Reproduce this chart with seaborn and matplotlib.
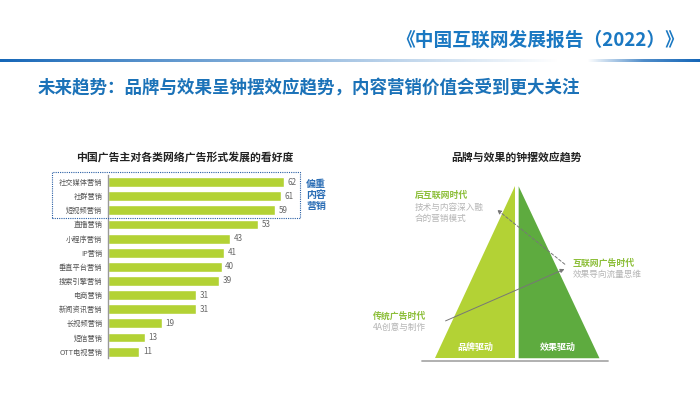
import numpy as np
import pandas as pd
import matplotlib
matplotlib.use("Agg")
import matplotlib.pyplot as plt
import matplotlib.patches as mpatches
import seaborn as sns

sns.set_style("white")
plt.rcParams['font.family'] = ['Noto Sans CJK SC', 'DejaVu Sans']

# dati:看好度
categories = ['社交媒体营销', '社群营销', '短视频营销', '直播营销', '小程序营销', 'IP营销',
              '垂直平台营销', '搜索引擎营销', '电商营销', '新闻资讯营销', '长视频营销', '短信营销', 'OTT电视营销']
scores = [62, 61, 59, 53, 43, 41, 40, 39, 31, 31, 19, 13, 11]

# dati: 钟摆效应 (triangolo)
halves = ['品牌驱动', '效果驱动']
half_colors = ['#b3d235', '#5eab3f']
eras = ['传统广告时代', '互联网广告时代', '后互联网时代']
era_desc = ['4A创意与制作', '效果导向流量思维', '技术与内容深入融\n合的营销模式']

BLUE = '#1a78c2'
GREEN_TXT = '#8dbf3a'
GRAY_TXT = '#b5b5b5'

W, H = 700, 393
fig = plt.figure(figsize=(7, 3.93), dpi=100)

def fx(px):
    return px / W

def fy(py):
    return 1 - py / H

# intestazione
fig.text(fx(684), fy(40), '《中国互联网发展报告（2022）》', ha='right', va='center',
         fontsize=13.5, fontweight='bold', color=BLUE)
fig.text(fx(38), fy(88), '未来趋势：品牌与效果呈钟摆效应趋势，内容营销价值会受到更大关注',
         ha='left', va='center', fontsize=12.6, fontweight='bold', color='#1b72b8')

# linea sfumata
lax = fig.add_axes([0, fy(62), 1, 3 / H])
xs = np.linspace(0, 1, 700)
alpha = np.interp(xs, [0, 0.1, 0.55, 0.8, 0.84, 0.92, 1.0], [1, 0.85, 0.3, 0.0, 0.0, 0.75, 1])
grad = np.zeros((1, 700, 4))
grad[..., 0] = 0.08
grad[..., 1] = 0.40
grad[..., 2] = 0.72
grad[..., 3] = alpha
lax.imshow(grad, aspect='auto', extent=[0, 1, 0, 1])
lax.axis('off')

# grafico a barre
df = pd.DataFrame({'cat': categories, 'score': scores})
ax = fig.add_axes([fx(108), fy(358), fx(200), 183 / H])
sns.barplot(data=df, y='cat', x='score', orient='h', color='#b3d235', width=0.7, ax=ax, saturation=1)
ax.set_xlim(0, 70.45)
ax.set_ylim(12.45, -0.5)
ax.set_xlabel('')
ax.set_ylabel('')
ax.set_xticks([])
ax.tick_params(axis='y', length=0, labelsize=5.2, labelcolor='#555555', pad=4)
for s in ['top', 'right', 'bottom']:
    ax.spines[s].set_visible(False)
ax.spines['left'].set_color('#999999')
ax.spines['left'].set_linewidth(1.0)
for i, v in enumerate(scores):
    ax.text(v + 1.3, i, str(v), va='center', ha='left', fontsize=5.8, color='#666666')

fig.text(fx(185), fy(157), '中国广告主对各类网络广告形式发展的看好度', ha='center', va='center',
         fontsize=7.8, fontweight='bold', color='#222222')

# riquadro tratteggiato
box = mpatches.Rectangle((fx(52), fy(218)), fx(248), 46 / H, transform=fig.transFigure,
                         fill=False, edgecolor='#2a5fa5', linestyle=(0, (1, 1)), linewidth=0.8)
fig.add_artist(box)
fig.text(fx(316), fy(195), '偏重\n内容\n营销', ha='center', va='center', fontsize=7.2,
         fontweight='bold', color='#2a6db5', linespacing=1.15)

# diagramma a triangolo: 82.5 px per unità in x, 172 px per unità in y
tax = fig.add_axes([fx(357), fy(372), fx(320), 200 / H])
tax.set_xlim(-1.94, 1.94)
tax.set_ylim(-0.08, 1.083)
tax.axis('off')
gap = 0.02
tax.fill([-1, -gap, -gap], [0, 0, 1], color=half_colors[0], lw=0)
tax.fill([gap, 1, gap], [0, 0, 1], color=half_colors[1], lw=0)
tax.plot([-1.15, 1.1], [-0.014, -0.014], color='#aaaaaa', lw=1.3)
tax.text(-0.5, 0.065, halves[0], ha='center', va='center', color='white', fontsize=6.5, fontweight='bold')
tax.text(0.5, 0.065, halves[1], ha='center', va='center', color='white', fontsize=6.5, fontweight='bold')

# frecce (coordinate in pixel della figura)
def px(x, y):
    return (fx(x), fy(y))

fig.add_artist(mpatches.FancyArrowPatch(px(443, 322), px(567, 268), transform=fig.transFigure,
               arrowstyle='-|>', color='#777777', lw=0.7, mutation_scale=6))
fig.add_artist(mpatches.FancyArrowPatch(px(567, 266), px(495, 208), transform=fig.transFigure,
               arrowstyle='-|>', color='#777777', lw=0.7, ls=(0, (3, 2)), mutation_scale=6))

fig.text(fx(373), fy(316), eras[0], ha='left', va='center', color=GREEN_TXT, fontsize=6.4, fontweight='bold')
fig.text(fx(373), fy(327), era_desc[0], ha='left', va='center', color=GRAY_TXT, fontsize=6.2)
fig.text(fx(573), fy(263), eras[1], ha='left', va='center', color=GREEN_TXT, fontsize=6.4, fontweight='bold')
fig.text(fx(573), fy(274), era_desc[1], ha='left', va='center', color=GRAY_TXT, fontsize=6.2)
fig.text(fx(415), fy(195), eras[2], ha='left', va='center', color=GREEN_TXT, fontsize=6.4, fontweight='bold')
fig.text(fx(415), fy(213), era_desc[2], ha='left', va='center', color=GRAY_TXT, fontsize=6.2, linespacing=1.25)

fig.text(fx(517), fy(157), '品牌与效果的钟摆效应趋势', ha='center', va='center',
         fontsize=7.8, fontweight='bold', color='#222222')

fig.savefig('out.png', dpi=100)
